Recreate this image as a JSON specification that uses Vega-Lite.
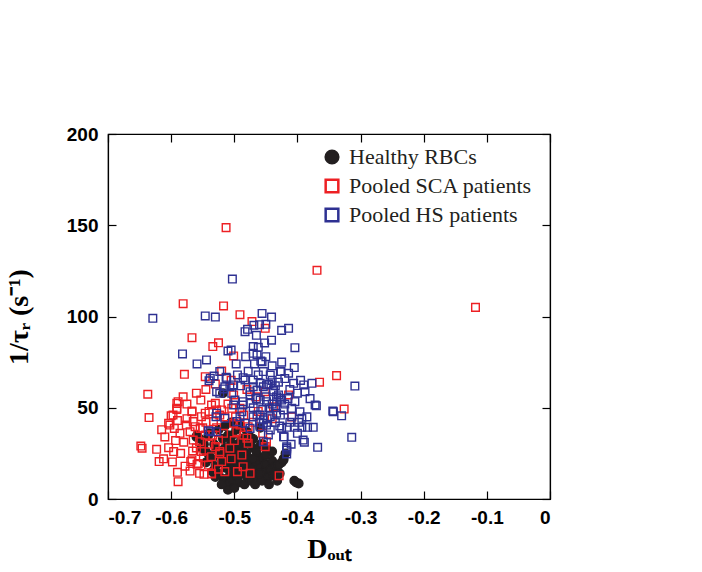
{
"$schema":"https://vega.github.io/schema/vega-lite/v6.json",
"width":442,"height":365,
"autosize":{"type":"none"},
"padding":{"left":108,"top":134,"right":152,"bottom":73},
"background":"white",
"config":{"view":{"stroke":"black","strokeWidth":1.2},
"axis":{"grid":false,"domainColor":"black","domainWidth":1.2,"tickColor":"black","tickWidth":1.2,"tickSize":-8,"labelFont":"Liberation Sans","labelFontWeight":"bold","labelFontSize":19,"labelColor":"black","titleFont":"Liberation Serif","titleFontWeight":"bold","titleColor":"black"},
"legend":{"orient":"none","legendX":213,"legendY":12,"title":null,"labelFont":"Liberation Serif","labelFontSize":22,"labelColor":"#231f20","labelLimit":0,"symbolSize":160,"symbolStrokeWidth":2.5,"rowPadding":5,"labelOffset":6}},
"data":{"values":[
{"g":"H","x":-0.560,"y":34},{"g":"H","x":-0.555,"y":33},{"g":"H","x":-0.548,"y":30},{"g":"H","x":-0.545,"y":26},{"g":"H","x":-0.540,"y":24},{"g":"H","x":-0.535,"y":22},{"g":"H","x":-0.532,"y":30},{"g":"H","x":-0.530,"y":18},{"g":"H","x":-0.528,"y":27},{"g":"H","x":-0.525,"y":14},{"g":"H","x":-0.522,"y":24},{"g":"H","x":-0.520,"y":20},{"g":"H","x":-0.518,"y":33},{"g":"H","x":-0.517,"y":11},{"g":"H","x":-0.515,"y":28},{"g":"H","x":-0.513,"y":17},{"g":"H","x":-0.512,"y":22},{"g":"H","x":-0.510,"y":8},{"g":"H","x":-0.510,"y":5},{"g":"H","x":-0.508,"y":25},{"g":"H","x":-0.507,"y":13},{"g":"H","x":-0.505,"y":31},{"g":"H","x":-0.504,"y":19},{"g":"H","x":-0.503,"y":35},{"g":"H","x":-0.502,"y":10},{"g":"H","x":-0.500,"y":23},{"g":"H","x":-0.499,"y":16},{"g":"H","x":-0.498,"y":28},{"g":"H","x":-0.497,"y":38},{"g":"H","x":-0.495,"y":12},{"g":"H","x":-0.494,"y":21},{"g":"H","x":-0.493,"y":9},{"g":"H","x":-0.492,"y":26},{"g":"H","x":-0.490,"y":17},{"g":"H","x":-0.489,"y":33},{"g":"H","x":-0.488,"y":14},{"g":"H","x":-0.487,"y":22},{"g":"H","x":-0.485,"y":30},{"g":"H","x":-0.484,"y":8},{"g":"H","x":-0.483,"y":19},{"g":"H","x":-0.481,"y":25},{"g":"H","x":-0.480,"y":12},{"g":"H","x":-0.478,"y":16},{"g":"H","x":-0.477,"y":35},{"g":"H","x":-0.475,"y":22},{"g":"H","x":-0.474,"y":10},{"g":"H","x":-0.472,"y":18},{"g":"H","x":-0.470,"y":28},{"g":"H","x":-0.468,"y":14},{"g":"H","x":-0.467,"y":8},{"g":"H","x":-0.465,"y":20},{"g":"H","x":-0.463,"y":24},{"g":"H","x":-0.461,"y":12},{"g":"H","x":-0.460,"y":17},{"g":"H","x":-0.458,"y":30},{"g":"H","x":-0.456,"y":10},{"g":"H","x":-0.455,"y":22},{"g":"H","x":-0.452,"y":15},{"g":"H","x":-0.450,"y":19},{"g":"H","x":-0.448,"y":27},{"g":"H","x":-0.446,"y":12},{"g":"H","x":-0.445,"y":8},{"g":"H","x":-0.443,"y":16},{"g":"H","x":-0.440,"y":21},{"g":"H","x":-0.438,"y":13},{"g":"H","x":-0.435,"y":18},{"g":"H","x":-0.432,"y":10},{"g":"H","x":-0.430,"y":19},{"g":"H","x":-0.428,"y":14},{"g":"H","x":-0.425,"y":20},{"g":"H","x":-0.422,"y":22},{"g":"H","x":-0.419,"y":25},{"g":"H","x":-0.405,"y":10},{"g":"H","x":-0.402,"y":9},{"g":"H","x":-0.398,"y":8.5},{"g":"H","x":-0.518,"y":58},{"g":"H","x":-0.459,"y":39},{"g":"H","x":-0.449,"y":27},{"g":"H","x":-0.540,"y":36},{"g":"H","x":-0.525,"y":38},{"g":"H","x":-0.515,"y":40},{"g":"H","x":-0.505,"y":42},{"g":"H","x":-0.490,"y":40},{"g":"H","x":-0.480,"y":37},{"g":"H","x":-0.470,"y":33},{"g":"H","x":-0.530,"y":12},{"g":"H","x":-0.520,"y":8},{"g":"H","x":-0.500,"y":6},{"g":"H","x":-0.495,"y":30},{"g":"H","x":-0.485,"y":26},{"g":"H","x":-0.475,"y":30},{"g":"H","x":-0.465,"y":26},{"g":"H","x":-0.455,"y":30},{"g":"H","x":-0.510,"y":35},{"g":"H","x":-0.545,"y":20},{"g":"H","x":-0.552,"y":28},{"g":"H","x":-0.535,"y":15},{"g":"H","x":-0.490,"y":22},{"g":"H","x":-0.480,"y":20},{"g":"H","x":-0.470,"y":22},{"g":"H","x":-0.460,"y":14},{"g":"H","x":-0.450,"y":24},{"g":"H","x":-0.440,"y":26},{"g":"H","x":-0.500,"y":19},{"g":"H","x":-0.510,"y":27},{"g":"H","x":-0.559,"y":35},{"g":"H","x":-0.541,"y":35},{"g":"H","x":-0.430,"y":18.6},{"g":"H","x":-0.422,"y":21.4},
{"g":"S","x":-0.513,"y":148.7},{"g":"S","x":-0.369,"y":125.3},{"g":"S","x":-0.118,"y":105},{"g":"S","x":-0.581,"y":107},{"g":"S","x":-0.517,"y":105.8},{"g":"S","x":-0.491,"y":101},{"g":"S","x":-0.472,"y":97.2},{"g":"S","x":-0.451,"y":93.5},{"g":"S","x":-0.567,"y":88.4},{"g":"S","x":-0.525,"y":85.6},{"g":"S","x":-0.534,"y":83.5},{"g":"S","x":-0.501,"y":78.4},{"g":"S","x":-0.520,"y":70.1},{"g":"S","x":-0.579,"y":68.3},{"g":"S","x":-0.546,"y":67},{"g":"S","x":-0.365,"y":64},{"g":"S","x":-0.338,"y":67.6},{"g":"S","x":-0.326,"y":49.3},{"g":"S","x":-0.409,"y":45},{"g":"S","x":-0.429,"y":12.8},
{"g":"S","x":-0.637,"y":57.4},{"g":"S","x":-0.635,"y":44.6},{"g":"S","x":-0.648,"y":29},{"g":"S","x":-0.646,"y":27.8},{"g":"S","x":-0.623,"y":27.2},{"g":"S","x":-0.619,"y":20.5},{"g":"S","x":-0.604,"y":28.1},{"g":"S","x":-0.598,"y":20.3},{"g":"S","x":-0.596,"y":26},{"g":"S","x":-0.590,"y":14.6},{"g":"S","x":-0.589,"y":9.5},{"g":"S","x":-0.581,"y":56},{"g":"S","x":-0.591,"y":49.1},{"g":"S","x":-0.600,"y":45.6},{"g":"S","x":-0.602,"y":40.5},{"g":"S","x":-0.595,"y":38.7},{"g":"S","x":-0.586,"y":36},{"g":"S","x":-0.576,"y":40.5},{"g":"S","x":-0.567,"y":48.2},{"g":"S","x":-0.565,"y":42.4},{"g":"S","x":-0.570,"y":36.9},{"g":"S","x":-0.580,"y":31.1},{"g":"S","x":-0.566,"y":26.3},{"g":"S","x":-0.569,"y":20.5},{"g":"S","x":-0.559,"y":19},{"g":"S","x":-0.570,"y":15.3},{"g":"S","x":-0.555,"y":14.1},{"g":"S","x":-0.553,"y":54.2},{"g":"S","x":-0.552,"y":45.1},{"g":"S","x":-0.546,"y":47},{"g":"S","x":-0.554,"y":38.7},{"g":"S","x":-0.546,"y":35},{"g":"S","x":-0.555,"y":31.4},{"g":"S","x":-0.552,"y":26},{"g":"S","x":-0.549,"y":22.6},{"g":"S","x":-0.541,"y":18.6},{"g":"S","x":-0.548,"y":13.5},{"g":"S","x":-0.536,"y":14.1},{"g":"S","x":-0.530,"y":52.4},{"g":"S","x":-0.528,"y":48.8},{"g":"S","x":-0.523,"y":46},{"g":"S","x":-0.533,"y":42.4},{"g":"S","x":-0.528,"y":39.1},{"g":"S","x":-0.534,"y":35},{"g":"S","x":-0.525,"y":32.3},{"g":"S","x":-0.530,"y":28.7},{"g":"S","x":-0.523,"y":26},{"g":"S","x":-0.536,"y":23.2},{"g":"S","x":-0.520,"y":20.5},
{"g":"S","x":-0.591,"y":52.4},{"g":"S","x":-0.604,"y":41.5},{"g":"S","x":-0.562,"y":39.6},{"g":"S","x":-0.550,"y":39},{"g":"S","x":-0.523,"y":25},{"g":"S","x":-0.507,"y":27.8},{"g":"S","x":-0.488,"y":24.1},{"g":"S","x":-0.486,"y":17.7},{"g":"S","x":-0.475,"y":14.1},{"g":"S","x":-0.536,"y":13.7},{"g":"S","x":-0.525,"y":16.3},{"g":"S","x":-0.478,"y":30.5},{"g":"S","x":-0.480,"y":33.3},{"g":"S","x":-0.449,"y":31.4},{"g":"S","x":-0.451,"y":28.7},{"g":"S","x":-0.496,"y":36.9},{"g":"S","x":-0.517,"y":36},{"g":"S","x":-0.565,"y":32.3},{"g":"S","x":-0.567,"y":21.4},{"g":"S","x":-0.557,"y":19.5},{"g":"S","x":-0.501,"y":41.5},{"g":"S","x":-0.491,"y":40.5},{"g":"S","x":-0.478,"y":39.6},
{"g":"S","x":-0.414,"y":57},{"g":"S","x":-0.451,"y":58.8},{"g":"S","x":-0.501,"y":57},{"g":"S","x":-0.438,"y":50.6},{"g":"S","x":-0.491,"y":49.7},{"g":"S","x":-0.589,"y":53.3},{"g":"S","x":-0.591,"y":49.7},{"g":"S","x":-0.597,"y":46},{"g":"S","x":-0.567,"y":47.8},{"g":"S","x":-0.536,"y":51.5},{"g":"S","x":-0.520,"y":48.8},{"g":"S","x":-0.504,"y":49.7},
{"g":"S","x":-0.575,"y":44},{"g":"S","x":-0.585,"y":25},{"g":"S","x":-0.578,"y":18},{"g":"S","x":-0.560,"y":28},{"g":"S","x":-0.545,"y":42},{"g":"S","x":-0.540,"y":48},{"g":"S","x":-0.515,"y":45},{"g":"S","x":-0.510,"y":52},{"g":"S","x":-0.498,"y":45},{"g":"S","x":-0.485,"y":46},{"g":"S","x":-0.470,"y":42},{"g":"S","x":-0.462,"y":48},{"g":"S","x":-0.455,"y":36},{"g":"S","x":-0.505,"y":22},{"g":"S","x":-0.495,"y":15},{"g":"S","x":-0.515,"y":15},{"g":"S","x":-0.540,"y":30},{"g":"S","x":-0.610,"y":34},{"g":"S","x":-0.615,"y":38},{"g":"S","x":-0.593,"y":32},{"g":"S","x":-0.612,"y":22},{"g":"S","x":-0.590,"y":43},{"g":"S","x":-0.575,"y":52},{"g":"S","x":-0.560,"y":58},{"g":"S","x":-0.545,"y":60},{"g":"S","x":-0.530,"y":63},{"g":"S","x":-0.505,"y":65},{"g":"S","x":-0.480,"y":60},{"g":"S","x":-0.466,"y":56},{"g":"S","x":-0.440,"y":44},{"g":"S","x":-0.500,"y":32},{"g":"S","x":-0.485,"y":35},
{"g":"B","x":-0.503,"y":120.5},{"g":"B","x":-0.629,"y":99},{"g":"B","x":-0.546,"y":100.3},{"g":"B","x":-0.530,"y":99.7},{"g":"B","x":-0.456,"y":101.7},{"g":"B","x":-0.441,"y":99.7},{"g":"B","x":-0.469,"y":95.2},{"g":"B","x":-0.460,"y":95.5},{"g":"B","x":-0.450,"y":95.7},{"g":"B","x":-0.483,"y":91.7},{"g":"B","x":-0.479,"y":93},{"g":"B","x":-0.425,"y":92.4},{"g":"B","x":-0.414,"y":93.5},{"g":"B","x":-0.465,"y":89.7},{"g":"B","x":-0.441,"y":87},{"g":"B","x":-0.452,"y":85.5},{"g":"B","x":-0.404,"y":82.9},{"g":"B","x":-0.470,"y":83.5},{"g":"B","x":-0.462,"y":83.1},{"g":"B","x":-0.510,"y":81.1},{"g":"B","x":-0.505,"y":81.6},{"g":"B","x":-0.470,"y":79.8},{"g":"B","x":-0.582,"y":79.5},{"g":"B","x":-0.544,"y":76.2},{"g":"B","x":-0.559,"y":74},{"g":"B","x":-0.497,"y":74},{"g":"B","x":-0.468,"y":74},{"g":"B","x":-0.458,"y":75.6},{"g":"B","x":-0.532,"y":67.4},{"g":"B","x":-0.513,"y":66.7},{"g":"B","x":-0.486,"y":66.5},{"g":"B","x":-0.426,"y":69.8},{"g":"B","x":-0.414,"y":68.9},{"g":"B","x":-0.540,"y":64.8},{"g":"B","x":-0.515,"y":61.5},{"g":"B","x":-0.309,"y":61.9},{"g":"B","x":-0.370,"y":51.1},{"g":"B","x":-0.344,"y":48.2},{"g":"B","x":-0.330,"y":45.6},{"g":"B","x":-0.314,"y":33.8},{"g":"B","x":-0.368,"y":28.3},{"g":"B","x":-0.391,"y":32.3},{"g":"B","x":-0.389,"y":31.1},{"g":"B","x":-0.417,"y":39.3},{"g":"B","x":-0.404,"y":39.3},{"g":"B","x":-0.393,"y":39.3},{"g":"B","x":-0.384,"y":39.3},{"g":"B","x":-0.375,"y":39.3},{"g":"B","x":-0.422,"y":34.1},{"g":"B","x":-0.425,"y":38.8},{"g":"B","x":-0.417,"y":28.6},{"g":"B","x":-0.417,"y":26.8},{"g":"B","x":-0.417,"y":24.7},{"g":"B","x":-0.529,"y":45.1},{"g":"B","x":-0.538,"y":36.9},{"g":"B","x":-0.515,"y":44.2},{"g":"B","x":-0.517,"y":60.3},{"g":"B","x":-0.496,"y":42.4},
{"g":"B","x":-0.464,"y":78.9},{"g":"B","x":-0.456,"y":75.2},{"g":"B","x":-0.470,"y":65.2},{"g":"B","x":-0.454,"y":69.8},{"g":"B","x":-0.443,"y":67.9},{"g":"B","x":-0.427,"y":69.8},{"g":"B","x":-0.406,"y":63.4},{"g":"B","x":-0.390,"y":62.5},{"g":"B","x":-0.377,"y":63.4},{"g":"B","x":-0.388,"y":58.8},{"g":"B","x":-0.372,"y":51.5},{"g":"B","x":-0.404,"y":53.3},{"g":"B","x":-0.475,"y":58.8},{"g":"B","x":-0.464,"y":59.7},{"g":"B","x":-0.454,"y":61.5},{"g":"B","x":-0.438,"y":59.7},{"g":"B","x":-0.427,"y":55.2},{"g":"B","x":-0.433,"y":53.3},{"g":"B","x":-0.449,"y":53.3},{"g":"B","x":-0.459,"y":54.2},{"g":"B","x":-0.475,"y":52.4},{"g":"B","x":-0.486,"y":53.3},{"g":"B","x":-0.499,"y":54.2},{"g":"B","x":-0.501,"y":51.5},{"g":"B","x":-0.491,"y":45.1},{"g":"B","x":-0.464,"y":46},{"g":"B","x":-0.454,"y":43.3},{"g":"B","x":-0.443,"y":45.1},{"g":"B","x":-0.433,"y":47},{"g":"B","x":-0.422,"y":48.8},{"g":"B","x":-0.409,"y":49.7},{"g":"B","x":-0.396,"y":47.8},{"g":"B","x":-0.393,"y":44.2},{"g":"B","x":-0.343,"y":47.8},{"g":"B","x":-0.459,"y":39.6},{"g":"B","x":-0.449,"y":40.5},{"g":"B","x":-0.475,"y":38.7},{"g":"B","x":-0.483,"y":41.5},
{"g":"B","x":-0.523,"y":69.8},{"g":"B","x":-0.538,"y":66.1},{"g":"B","x":-0.512,"y":66.1},{"g":"B","x":-0.507,"y":61.5},{"g":"B","x":-0.528,"y":58.8},{"g":"B","x":-0.504,"y":57.9},
{"g":"B","x":-0.483,"y":65.2},{"g":"B","x":-0.528,"y":36.9},{"g":"B","x":-0.541,"y":37.4},{"g":"B","x":-0.486,"y":51.5},{"g":"B","x":-0.488,"y":47.8},{"g":"B","x":-0.459,"y":46},{"g":"B","x":-0.454,"y":41.5},{"g":"B","x":-0.443,"y":37.8},{"g":"B","x":-0.446,"y":35.1},{"g":"B","x":-0.454,"y":31.4},{"g":"B","x":-0.421,"y":34.1},{"g":"B","x":-0.409,"y":45.1},{"g":"B","x":-0.417,"y":27.8},{"g":"B","x":-0.427,"y":46},{"g":"B","x":-0.425,"y":54.2},{"g":"B","x":-0.433,"y":56},{"g":"B","x":-0.438,"y":58.8},{"g":"B","x":-0.449,"y":62.5},{"g":"B","x":-0.459,"y":63.4},{"g":"B","x":-0.470,"y":61.5},{"g":"B","x":-0.475,"y":57},{"g":"B","x":-0.501,"y":62.5},{"g":"B","x":-0.523,"y":57.9},{"g":"B","x":-0.528,"y":47},
{"g":"B","x":-0.445,"y":50},{"g":"B","x":-0.440,"y":52},{"g":"B","x":-0.435,"y":50},{"g":"B","x":-0.430,"y":57},{"g":"B","x":-0.420,"y":52},{"g":"B","x":-0.415,"y":55},{"g":"B","x":-0.412,"y":60},{"g":"B","x":-0.400,"y":58},{"g":"B","x":-0.470,"y":50},{"g":"B","x":-0.465,"y":55},{"g":"B","x":-0.455,"y":49},{"g":"B","x":-0.450,"y":56},{"g":"B","x":-0.445,"y":63},{"g":"B","x":-0.440,"y":65},{"g":"B","x":-0.435,"y":62},{"g":"B","x":-0.430,"y":64},{"g":"B","x":-0.420,"y":66},{"g":"B","x":-0.462,"y":68},{"g":"B","x":-0.478,"y":70},{"g":"B","x":-0.490,"y":62},{"g":"B","x":-0.495,"y":68},{"g":"B","x":-0.460,"y":42},{"g":"B","x":-0.470,"y":45},{"g":"B","x":-0.435,"y":42},{"g":"B","x":-0.428,"y":40},{"g":"B","x":-0.448,"y":44},{"g":"B","x":-0.412,"y":42},{"g":"B","x":-0.400,"y":36},{"g":"B","x":-0.410,"y":30},{"g":"B","x":-0.398,"y":42},{"g":"B","x":-0.385,"y":45},{"g":"B","x":-0.380,"y":55},{"g":"B","x":-0.395,"y":65},{"g":"B","x":-0.405,"y":72},{"g":"B","x":-0.482,"y":78},{"g":"B","x":-0.450,"y":78},{"g":"B","x":-0.440,"y":73},{"g":"B","x":-0.425,"y":75}
]},
"layer":[
{"mark":{"type":"point","strokeWidth":1.4,"opacity":1},
"encoding":{
"x":{"field":"x","type":"quantitative","scale":{"domain":[-0.7,0],"nice":false,"zero":false},
"axis":{"values":[-0.7,-0.6,-0.5,-0.4,-0.3,-0.2,-0.1,0],"labelExpr":"'' + datum.value","labelPadding":17,"title":"Dₒᵤₜ","titleFontSize":28,"titlePadding":8}},
"y":{"field":"y","type":"quantitative","scale":{"domain":[0,200],"nice":false},
"axis":{"values":[0,50,100,150,200],"labelPadding":18,"title":"1/τᵣ (s⁻¹)","titleFontSize":28,"titlePadding":33}},
"size":{"condition":{"test":"datum.g == 'H'","value":72},"value":58},
"shape":{"field":"g","type":"nominal","scale":{"domain":["H","S","B"],"range":["circle","square","square"]},
"legend":{"labelExpr":"datum.label == 'H' ? 'Healthy RBCs' : datum.label == 'S' ? 'Pooled SCA patients' : 'Pooled HS patients'"}},
"stroke":{"field":"g","type":"nominal","scale":{"domain":["H","S","B"],"range":["#231f20","#ed2024","#2e3192"]},
"legend":{"labelExpr":"datum.label == 'H' ? 'Healthy RBCs' : datum.label == 'S' ? 'Pooled SCA patients' : 'Pooled HS patients'"}},
"fill":{"field":"g","type":"nominal","scale":{"domain":["H","S","B"],"range":["#231f20","transparent","transparent"]},
"legend":{"labelExpr":"datum.label == 'H' ? 'Healthy RBCs' : datum.label == 'S' ? 'Pooled SCA patients' : 'Pooled HS patients'"}}
}},
{"mark":{"type":"point","opacity":0},
"encoding":{
"x":{"field":"x","type":"quantitative","scale":{"domain":[-0.7,0],"nice":false,"zero":false},
"axis":{"orient":"top","values":[-0.7,-0.6,-0.5,-0.4,-0.3,-0.2,-0.1,0],"labels":false,"title":null}},
"y":{"field":"y","type":"quantitative","scale":{"domain":[0,200],"nice":false},
"axis":{"orient":"right","values":[0,50,100,150,200],"labels":false,"title":null}}
}}
],
"resolve":{"axis":{"x":"independent","y":"independent"}}
}
